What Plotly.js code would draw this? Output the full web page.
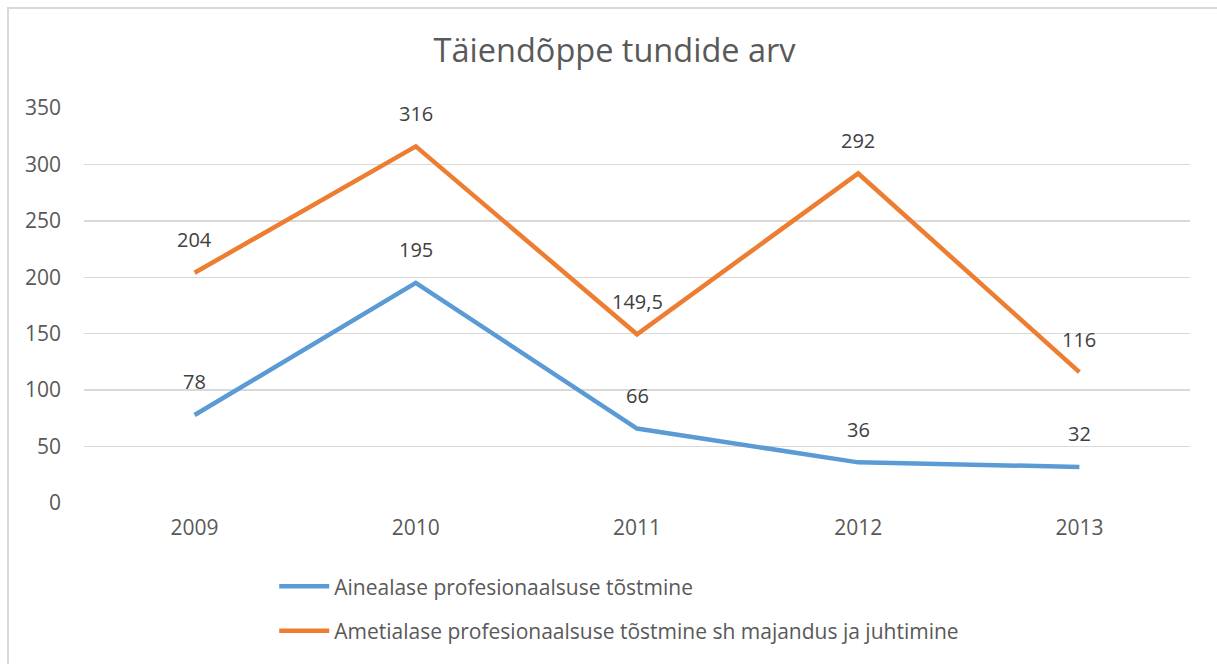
<!DOCTYPE html>
<html>
<head>
<meta charset="utf-8">
<script src="https://cdn.plot.ly/plotly-3.0.1.min.js"></script>
<style>
  html, body { margin: 0; padding: 0; background: #fff; }
  #wrap { position: relative; width: 1217px; height: 664px; overflow: hidden; }
  #chart { width: 1217px; height: 664px; }
  #frame { position: absolute; left: 7px; top: 7px; right: -10px; bottom: -10px;
           border-left: 2px solid #d9d9d9; border-top: 2px solid #d9d9d9; pointer-events: none; }
</style>
</head>
<body>
<div id="wrap">
  <div id="chart"></div>
  <div id="frame"></div>
</div>
<script>
const years = ['2009', '2010', '2011', '2012', '2013'];
const seriesNames = [
  'Ainealase profesionaalsuse tõstmine',
  'Ametialase profesionaalsuse tõstmine sh majandus ja juhtimine'
];
const ainealane = [78, 195, 66, 36, 32];
const ametialane = [204, 316, 149.5, 292, 116];
const yTicks = [0, 50, 100, 150, 200, 250, 300, 350];

const colors = ['#5B9BD5', '#ED7D31'];
const font = '"Open Sans", "Noto Sans", "Liberation Sans", sans-serif';
const textColor = '#595959';

const allSeries = [ainealane, ametialane];
const traces = allSeries.map((vals, i) => ({
  type: 'scatter',
  mode: 'lines',
  x: years,
  y: vals,
  name: seriesNames[i],
  legendgroup: 'g' + i,
  line: { color: colors[i], width: 4.5 },
  hoverinfo: 'x+y'
}));

const annotations = [];
allSeries.forEach((vals) => {
  vals.forEach((v, j) => {
    annotations.push({
      x: j, y: v, xref: 'x', yref: 'y',
      text: String(v).replace('.', ','),
      showarrow: false, yshift: 33,
      font: { family: font, size: 20, color: '#404040' }
    });
  });
});

const layout = {
  width: 1217, height: 664,
  margin: { l: 84, r: 27, t: 108, b: 161 },
  paper_bgcolor: '#ffffff',
  plot_bgcolor: '#ffffff',
  title: {
    text: 'Täiendõppe tundide arv',
    font: { family: font, size: 32.5, color: '#595959' },
    x: 0.505, xanchor: 'center', y: 0.924, yanchor: 'middle'
  },
  xaxis: {
    type: 'category',
    range: [-0.5, 4.5],
    showgrid: false, zeroline: false, showline: false, ticks: '',
    tickfont: { family: font, size: 21, color: textColor },
    ticklabelstandoff: 10
  },
  yaxis: {
    range: [0, 350],
    tickvals: yTicks,
    showgrid: true, gridcolor: '#d9d9d9', gridwidth: 1.3,
    zeroline: false, showline: false, ticks: '',
    tickfont: { family: font, size: 21, color: textColor },
    ticklabelstandoff: 22
  },
  showlegend: true,
  legend: {
    orientation: 'v',
    x: 0.172, xanchor: 'left',
    y: -0.16, yanchor: 'top',
    traceorder: 'grouped',
    tracegroupgap: 14,
    itemwidth: 50,
    font: { family: font, size: 21, color: textColor },
    bgcolor: 'rgba(0,0,0,0)'
  },
  annotations: annotations
};

Plotly.newPlot('chart', traces, layout, { displayModeBar: false, staticPlot: true });
</script>
</body>
</html>
